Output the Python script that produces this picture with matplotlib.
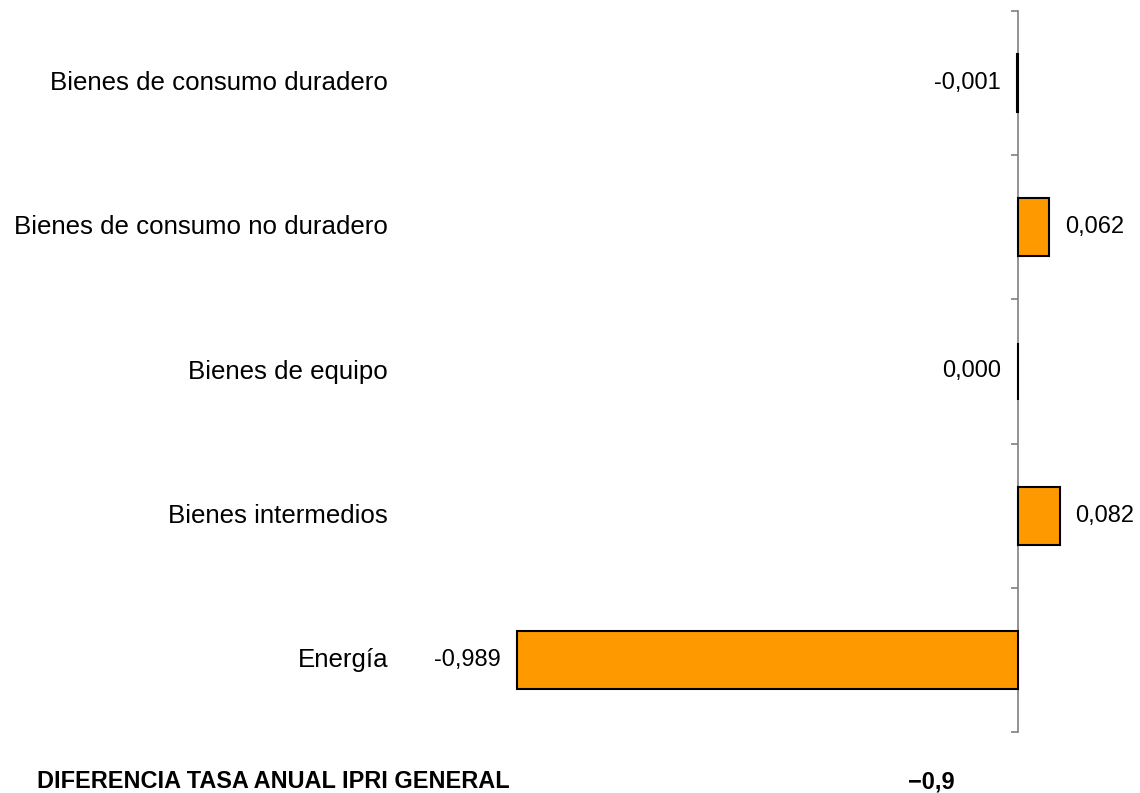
import matplotlib.pyplot as plt
from matplotlib import transforms

plt.rcParams['font.family'] = ['Liberation Sans', 'DejaVu Sans']

# data (bottom to top)
categorias = ['Energía', 'Bienes intermedios', 'Bienes de equipo',
              'Bienes de consumo no duradero', 'Bienes de consumo duradero']
valores = [-0.989, 0.082, 0.000, 0.062, -0.001]
etiquetas = ['-0,989', '0,082', '0,000', '0,062', '-0,001']
pie_texto = 'DIFERENCIA TASA ANUAL IPRI GENERAL'
pie_valor = '\u22120,9'

W, H = 1140, 793
fig = plt.figure(figsize=(W / 100, H / 100), dpi=100)

# layout in pixels
zero_px, unit_px = 1018, 506.6
left_px, right_px, top_px, bottom_px = 430, 1130, 11, 732
ax = fig.add_axes([left_px / W, 1 - bottom_px / H,
                   (right_px - left_px) / W, (bottom_px - top_px) / H])
ax.set_xlim(-(zero_px - left_px) / unit_px, (right_px - zero_px) / unit_px)
ax.set_ylim(-0.5, len(categorias) - 0.5)

ax.barh(range(len(valores)), valores, height=0.4, color='#FF9900',
        edgecolor='black', linewidth=1.5, zorder=3)

for s in ['top', 'right', 'bottom']:
    ax.spines[s].set_visible(False)
ax.spines['left'].set_position(('data', 0))
ax.spines['left'].set_color('#808080')
ax.spines['left'].set_linewidth(1.2)
ax.set_xticks([])
ax.set_yticks([i - 0.5 for i in range(len(categorias) + 1)])
ax.tick_params(axis='y', direction='out', length=5, width=1.2,
               color='#808080', labelleft=False)

# category labels
trans = transforms.blended_transform_factory(fig.transFigure, ax.transData)
for i, c in enumerate(categorias):
    ax.text(388 / W, i, c, transform=trans, ha='right', va='center',
            fontsize=18.6)

# value labels
for i, (v, t) in enumerate(zip(valores, etiquetas)):
    if v > 0:
        ax.annotate(t, (v, i), xytext=(11, 0), textcoords='offset points',
                    ha='left', va='center', fontsize=17)
    else:
        ax.annotate(t, (v, i), xytext=(-12, 0), textcoords='offset points',
                    ha='right', va='center', fontsize=17)

fig.text(37 / W, 1 - 782 / H, pie_texto, fontsize=16.9, fontweight='bold',
         va='center', ha='left')
fig.text(908 / W, 1 - 782 / H, pie_valor, fontsize=17, fontweight='bold',
         va='center', ha='left')

fig.savefig('out.png', dpi=100)
